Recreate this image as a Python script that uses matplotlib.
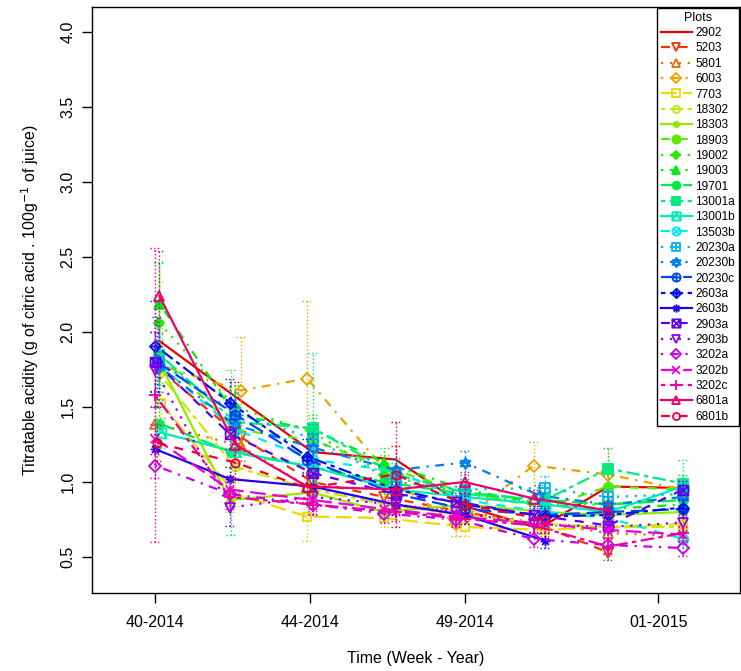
import colorsys
import numpy as np
import matplotlib
matplotlib.use('Agg')
import matplotlib.pyplot as plt
from matplotlib.path import Path
from matplotlib.lines import Line2D

plt.rcParams['font.family'] = ['Liberation Sans', 'DejaVu Sans']

nan = np.nan

plots = ["2902", "5203", "5801", "6003", "7703", "18302", "18303", "18903",
         "19002", "19003", "19701", "13001a", "13001b", "13503b", "20230a",
         "20230b", "20230c", "2603a", "2603b", "2903a", "2903b", "3202a",
         "3202b", "3202c", "6801a", "6801b"]

# sampling day, counted from the Monday of week 40-2014
days = [
  [0.8, 14.5, 28.5, 43.5, 56.0, 69.5, 82.0, 95.5],  # 2902
  [0.8, 15.5, 28.5, 41.5, 56.0, 70.5, 82.0, nan],   # 5203
  [0.0, 15.5, 28.5, 43.5, 56.0, 70.5, 82.0, 95.5],  # 5801
  [0.8, 15.5, 27.5, 43.5, 54.5, 68.5, 82.0, 95.5],  # 6003
  [1.0, 14.5, 27.5, 41.5, 56.0, 70.5, 82.0, 95.5],  # 7703
  [0.8, 14.5, 28.5, 41.5, 56.0, 70.5, 82.0, 95.5],  # 18302
  [0.8, 13.5, 28.5, 41.5, 56.0, 70.5, 82.0, 95.5],  # 18303
  [0.8, 14.5, 28.5, 41.5, 56.0, 70.5, 82.0, 95.5],  # 18903
  [0.8, 14.5, 28.5, 41.5, 56.0, 70.5, 82.0, 95.5],  # 19002
  [0.8, 14.5, 28.5, 41.5, 56.0, 70.5, 82.0, 95.5],  # 19003
  [0.8, 13.8, 28.5, 41.5, 56.0, 70.5, 82.0, 95.5],  # 19701
  [0.8, 14.5, 28.5, 43.5, 56.0, 70.5, 82.0, 95.5],  # 13001a
  [1.0, 14.5, 28.5, 43.5, 56.0, 70.5, 82.0, 95.5],  # 13001b
  [0.8, 14.5, 28.5, 43.5, 56.0, 70.5, 82.0, 95.5],  # 13503b
  [0.8, 14.5, 28.5, 43.5, 56.0, 70.5, 82.0, 95.5],  # 20230a
  [0.8, 14.5, 28.5, 43.5, 56.0, 69.5, 82.0, 95.5],  # 20230b
  [0.4, 14.5, 27.5, 43.5, 56.0, 70.5, 82.0, 95.5],  # 20230c
  [0.0, 13.5, 27.5, 43.5, 56.0, 70.5, 82.0, 95.5],  # 2603a
  [0.0, 13.5, 28.5, 43.5, 56.0, 70.5, nan, nan],    # 2603b
  [0.0, 13.5, 28.5, 43.5, 54.5, 68.5, 82.0, 95.5],  # 2903a
  [0.0, 13.5, 28.5, 43.5, 54.5, 68.5, 82.0, 95.5],  # 2903b
  [0.0, 13.5, 28.5, 41.5, 54.5, 68.5, 82.0, 95.5],  # 3202a
  [0.0, 13.5, 28.5, 41.5, 54.5, 70.5, 82.0, 95.5],  # 3202b
  [0.0, 13.5, 28.5, 43.5, 54.5, 68.5, 82.0, 95.5],  # 3202c
  [0.8, 14.5, 27.5, 43.5, 56.0, 68.5, 82.0, nan],   # 6801a
  [0.4, 14.5, 27.5, 43.5, 56.0, 70.5, nan, nan],    # 6801b
]

# mean titratable acidity per plot and date
acidity = [
  [1.94, 1.57, 1.20, 1.15, 0.84, 0.69, 0.97, 0.96],
  [1.75, 1.30, 1.00, 0.90, 0.80, 0.70, 0.53, nan],
  [1.39, 1.24, 0.95, 0.85, 0.80, 0.72, 0.66, 0.64],
  [1.78, 1.61, 1.69, 1.00, 0.72, 1.11, 1.05, 0.95],
  [1.53, 0.92, 0.77, 0.76, 0.70, 0.68, 0.70, 0.72],
  [1.72, 1.10, 0.95, 0.85, 0.78, 0.72, 0.70, 0.70],
  [1.80, 0.88, 0.93, 0.80, 0.85, 0.80, 0.78, 0.80],
  [1.85, 1.35, 1.28, 1.10, 0.93, 0.83, 0.97, 0.95],
  [2.06, 1.50, 1.33, 1.05, 0.92, 0.85, 0.85, 0.90],
  [2.19, 1.45, 1.35, 1.13, 0.95, 0.85, 0.82, 0.85],
  [1.39, 1.20, 1.10, 1.00, 0.92, 0.88, 0.85, 0.88],
  [1.85, 1.40, 1.36, 1.05, 0.93, 0.88, 1.09, 0.99],
  [1.33, 1.20, 1.10, 0.95, 0.90, 0.85, 0.80, 0.97],
  [1.78, 1.35, 1.15, 1.07, 0.88, 0.80, 0.76, 0.62],
  [1.80, 1.46, 1.29, 1.00, 0.95, 0.96, 0.90, 0.92],
  [1.77, 1.38, 1.23, 1.08, 1.13, 0.91, 0.85, 0.90],
  [1.80, 1.45, 1.15, 0.92, 0.82, 0.78, 0.80, 0.82],
  [1.91, 1.53, 1.17, 0.95, 0.85, 0.77, 0.78, 0.83],
  [1.22, 1.02, 0.97, 0.85, 0.78, 0.61, nan, nan],
  [1.80, 1.32, 1.06, 0.92, 0.87, 0.78, 0.71, 0.95],
  [1.75, 0.83, 0.90, 0.85, 0.80, 0.72, 0.70, 0.73],
  [1.11, 0.92, 0.85, 0.79, 0.75, 0.62, 0.58, 0.56],
  [1.29, 0.95, 0.88, 0.82, 0.77, 0.72, 0.68, 0.65],
  [1.58, 0.90, 0.85, 0.80, 0.76, 0.71, 0.57, 0.66],
  [2.24, 1.25, 0.97, 0.95, 1.00, 0.89, 0.81, nan],
  [1.26, 1.13, 0.96, 1.05, 0.85, 0.75, nan, nan],
]

# standard deviation (error bar half length)
sd = [
  [0.14, 0.10, 0.08, 0.09, 0.07, 0.06, 0.07, 0.06],
  [0.15, 0.10, 0.08, 0.07, 0.06, 0.06, 0.05, nan],
  [0.12, 0.10, 0.08, 0.07, 0.06, 0.06, 0.05, 0.05],
  [0.25, 0.36, 0.52, 0.10, 0.08, 0.16, 0.18, 0.10],
  [0.10, 0.08, 0.16, 0.06, 0.06, 0.05, 0.05, 0.05],
  [0.62, 0.10, 0.08, 0.07, 0.06, 0.05, 0.05, 0.05],
  [0.15, 0.08, 0.08, 0.06, 0.06, 0.05, 0.05, 0.05],
  [0.20, 0.12, 0.10, 0.08, 0.07, 0.06, 0.08, 0.07],
  [0.40, 0.15, 0.10, 0.08, 0.07, 0.06, 0.06, 0.07],
  [0.28, 0.14, 0.10, 0.10, 0.07, 0.06, 0.06, 0.06],
  [0.12, 0.55, 0.10, 0.08, 0.07, 0.06, 0.06, 0.06],
  [0.20, 0.12, 0.50, 0.08, 0.07, 0.06, 0.14, 0.16],
  [0.10, 0.10, 0.09, 0.07, 0.06, 0.06, 0.05, 0.08],
  [0.18, 0.12, 0.10, 0.08, 0.06, 0.06, 0.05, 0.05],
  [0.20, 0.14, 0.10, 0.08, 0.07, 0.08, 0.06, 0.07],
  [0.22, 0.12, 0.10, 0.08, 0.08, 0.07, 0.06, 0.06],
  [0.30, 0.12, 0.10, 0.08, 0.06, 0.06, 0.06, 0.06],
  [0.30, 0.16, 0.12, 0.08, 0.06, 0.06, 0.06, 0.06],
  [0.10, 0.08, 0.08, 0.06, 0.06, 0.05, nan, nan],
  [0.20, 0.10, 0.08, 0.07, 0.06, 0.06, 0.05, 0.06],
  [0.25, 0.12, 0.08, 0.07, 0.06, 0.05, 0.05, 0.05],
  [0.08, 0.08, 0.06, 0.06, 0.05, 0.05, 0.05, 0.05],
  [0.10, 0.08, 0.07, 0.06, 0.05, 0.05, 0.05, 0.05],
  [0.98, 0.08, 0.07, 0.06, 0.05, 0.05, 0.05, 0.05],
  [0.30, 0.12, 0.10, 0.08, 0.07, 0.06, 0.06, nan],
  [0.12, 0.10, 0.10, 0.35, 0.07, 0.06, nan, nan],
]

week_ticks = [0, 28, 56, 91]
week_labels = ["40-2014", "44-2014", "49-2014", "01-2015"]


def seg(x0, y0, x1, y1):
  return Path([(x0, y0), (x1, y1)], [Path.MOVETO, Path.LINETO])

def poly(pts):
  return Path(pts + [pts[0]], [Path.MOVETO] + [Path.LINETO] * (len(pts) - 1) + [Path.CLOSEPOLY])

square = poly([(-1, -1), (1, -1), (1, 1), (-1, 1)])
circle = Path.unit_circle()
diamond = poly([(0, -1.25), (1.25, 0), (0, 1.25), (-1.25, 0)])
plus = Path.make_compound_path(seg(-1, 0, 1, 0), seg(0, -1, 0, 1))
cross = Path.make_compound_path(seg(-.72, -.72, .72, .72), seg(-.72, .72, .72, -.72))

# R plotting symbols; pch 26 is empty
pch_marker = {
  26: (None, False, 7),
  25: ('v', False, 7),
  24: ('^', False, 7),
  23: ('D', False, 6),
  22: ('s', False, 6),
  21: ('o', False, 6),
  20: ('o', True, 4.5),
  19: ('o', True, 7),
  18: ('D', True, 5),
  17: ('^', True, 7),
  16: ('o', True, 6.5),
  15: ('s', True, 6.5),
  14: (Path.make_compound_path(square, Path([(-1, -1), (0, 1), (1, -1)], [1, 2, 2])), False, 7),
  13: (Path.make_compound_path(circle, cross), False, 7),
  12: (Path.make_compound_path(square, plus), False, 7),
  11: (Path.make_compound_path(poly([(0, 1), (-.87, -.5), (.87, -.5)]),
                               poly([(0, -1), (-.87, .5), (.87, .5)])), False, 8),
  10: (Path.make_compound_path(circle, plus), False, 7),
  9: (Path.make_compound_path(diamond, seg(-1.25, 0, 1.25, 0), seg(0, -1.25, 0, 1.25)), False, 8),
  8: (Path.make_compound_path(plus, cross), False, 7),
  7: (Path.make_compound_path(square, seg(-1, -1, 1, 1), seg(-1, 1, 1, -1)), False, 7),
  6: ('v', False, 7),
  5: ('D', False, 6),
  4: ('x', False, 6),
  3: ('+', False, 8),
  2: ('^', False, 7),
  1: ('o', False, 6),
}

# R line types 1..6
lty = ['-', (0, (4, 4)), (0, (1, 3)), (0, (1, 3, 4, 3)), (0, (7, 3)), (0, (2, 2, 6, 2))]

n = len(plots)
colors = [colorsys.hsv_to_rgb(i / n, 1, 0.92) for i in range(n)]

fig = plt.figure(figsize=(7.41, 6.71), dpi=100)
ax = fig.add_axes([92 / 741, 78 / 671, 648 / 741, 586 / 671])

handles = []
for i, name in enumerate(plots):
  col = colors[i]
  marker, filled, ms = pch_marker[n - i]
  ls = lty[i % 6]
  x = np.array(days[i])
  y = np.array(acidity[i])
  e = np.array(sd[i])
  style = dict(color=col, ls=ls, lw=1.6, marker=marker, ms=ms,
               mfc=col if filled else 'none', mec=col, mew=1.3)
  ax.plot(x, y, **style)
  ok = np.isfinite(y) & np.isfinite(e)
  ax.vlines(x[ok], y[ok] - e[ok], y[ok] + e[ok], colors=[col], linestyles=':', lw=1)
  for end in (y[ok] - e[ok], y[ok] + e[ok]):
    ax.hlines(end, x[ok] - 0.9, x[ok] + 0.9, colors=[col], linestyles=':', lw=1)
  handles.append(Line2D([], [], **style))

ax.set_xlim(-11.4, 105.8)
ax.set_ylim(0.26, 4.167)
ax.set_xticks(week_ticks)
ax.set_xticklabels(week_labels)
ax.set_yticks(np.arange(0.5, 4.01, 0.5))
ax.set_yticklabels([f"{v:.1f}" for v in np.arange(0.5, 4.01, 0.5)], rotation=90, va='center')
ax.tick_params(labelsize=11.5, length=7, width=1, pad=9)
ax.tick_params(axis='y', pad=5)
for s in ax.spines.values():
  s.set_linewidth(1)

ax.set_xlabel("Time (Week - Year)", fontsize=11.5, labelpad=15)
ax.set_ylabel("Titratable acidity (g of citric acid . 100g$^{-1}$ of juice)", fontsize=11.5, labelpad=14)

leg = ax.legend(handles, plots, title="Plots", loc='upper right', borderaxespad=0.1,
                fontsize=8.6, title_fontsize=9, handlelength=2.6, handletextpad=0.3,
                labelspacing=0.28, borderpad=0.3, markerscale=0.85, fancybox=False,
                framealpha=1, edgecolor='black')
leg.get_frame().set_linewidth(1)

fig.savefig("out.png", dpi=100)
